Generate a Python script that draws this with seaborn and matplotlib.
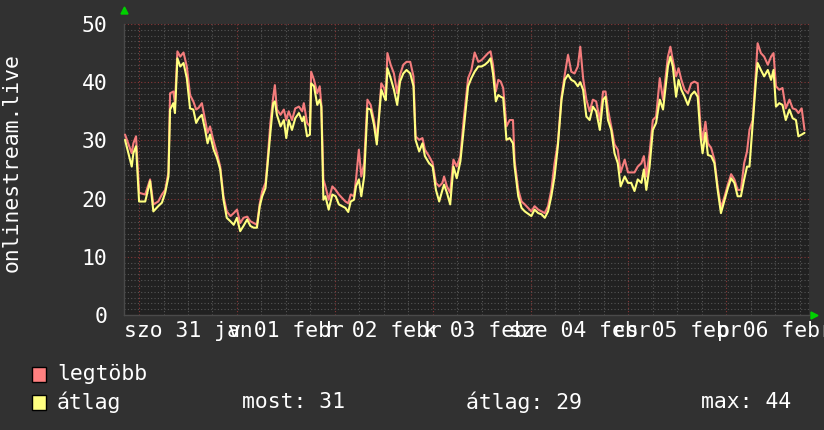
import datetime as dt
import pandas as pd
import matplotlib
matplotlib.use("Agg")
import matplotlib.pyplot as plt
import matplotlib.dates as mdates
import matplotlib.transforms as mtransforms
from matplotlib.patches import Rectangle, Polygon
from matplotlib.ticker import MultipleLocator
import seaborn as sns

# hours since the start of the week window
hours = [
    0.25, 1.9, 2.3, 2.95, 3.7, 5.2, 6.4, 7.2, 8.4, 9.3, 10.1, 10.9, 11.3, 12.1, 12.5,
    13.1, 13.8, 14.6, 15.4, 16.2, 17.0, 17.7, 18.3, 19.1, 19.9, 20.5, 21.1, 22.0, 22.8,
    23.6, 24.4, 25.2, 26.1, 26.9, 27.7, 28.5, 29.3, 30.2, 31.0, 31.8, 32.6, 33.3, 33.9,
    34.7, 35.1, 35.9, 36.6, 37.0, 37.5, 38.4, 39.2, 39.8, 40.4, 41.2, 42.0, 42.9, 43.7,
    44.1, 44.9, 45.6, 45.9, 46.6, 47.4, 48.0, 48.4, 48.9, 49.4, 50.2, 51.1, 51.9, 52.7,
    53.5, 54.3, 55.0, 55.6, 56.4, 56.9, 57.6, 58.2, 58.9, 59.7, 60.5, 61.3, 62.0, 62.5,
    63.1, 63.8, 64.2, 64.6, 65.4, 66.2, 67.0, 67.7, 68.5, 69.3, 70.2, 71.0, 71.5, 72.4,
    73.2, 73.8, 74.8, 75.7, 76.5, 77.3, 78.1, 78.5, 79.2, 80.0, 80.8, 81.6, 82.5, 83.3,
    84.4, 85.2, 86.0, 86.9, 87.7, 88.5, 89.3, 89.9, 90.5, 91.2, 91.8, 92.4, 93.0, 93.8,
    94.6, 95.4, 95.8, 96.7, 97.5, 98.3, 99.1, 99.9, 100.7, 101.6, 102.4, 103.2, 104.0,
    104.8, 105.6, 106.4, 107.3, 108.1, 108.9, 109.7, 110.5, 111.3, 111.9, 112.6, 113.4,
    114.2, 115.0, 115.8, 116.7, 117.5, 118.1, 118.7, 119.5, 120.3, 121.1, 121.8, 122.8,
    123.6, 124.4, 125.2, 126.0, 126.9, 127.5, 128.1, 128.9, 129.7, 130.5, 131.4, 132.2,
    132.7, 133.4, 134.0, 134.6, 135.4, 136.0, 136.7, 137.5, 138.3, 139.1, 139.9, 140.7,
    141.4, 141.9, 142.6, 143.2, 144.0, 144.8, 145.6, 146.4, 147.3, 148.1, 148.9, 149.7,
    150.5, 151.3, 152.1, 152.8, 153.4, 154.2, 155.0, 155.4, 156.2, 157.0, 157.9, 158.7,
    159.3, 159.9, 160.7, 161.5, 162.3, 163.2, 164.0, 164.8, 165.4, 166.2, 166.9,
]

atlag = [
    30.1, 25.5, 27.8, 29.0, 19.5, 19.5, 23.0, 17.8, 18.7, 19.3, 21.0, 23.8, 35.3, 36.4, 34.7,
    44.1, 42.7, 43.3, 40.7, 35.5, 35.3, 33.0, 33.8, 34.4, 31.8, 29.5, 31.0, 28.4, 27.0,
    25.0, 19.8, 16.7, 16.1, 15.5, 16.7, 14.4, 15.3, 16.4, 15.3, 15.0, 15.0, 18.7, 20.4,
    21.8, 25.0, 31.3, 36.4, 36.7, 34.4, 32.4, 33.5, 30.4, 33.5, 31.8, 33.8, 34.7, 33.3,
    34.1, 30.7, 31.0, 39.8, 39.3, 36.1, 37.0, 35.8, 19.8, 20.4, 18.1, 20.7, 20.4, 19.0,
    18.7, 18.4, 17.7, 19.5, 19.8, 22.1, 23.3, 20.4, 23.8, 35.5, 35.3, 32.7, 29.3, 33.5,
    38.7, 37.5, 36.9, 42.4, 40.7, 38.7, 36.1, 40.1, 41.5, 42.1, 41.5, 39.3, 30.1, 28.1,
    29.5, 27.3, 26.1, 25.5, 21.5, 19.5, 21.5, 22.4, 21.0, 19.0, 25.5, 23.5, 26.4, 31.8,
    39.3, 40.7, 41.8, 42.7, 42.7, 43.0, 43.5, 44.1, 41.5, 36.7, 37.8, 37.5, 37.3, 30.1,
    30.4, 29.5, 25.5, 20.4, 18.4, 17.8, 17.4, 17.0, 18.1, 17.5, 17.3, 16.7, 17.8,
    20.4, 23.8, 29.0, 37.0, 40.4, 41.3, 40.4, 40.1, 39.3, 40.0, 38.7, 34.1,
    33.5, 35.8, 35.0, 31.8, 37.0, 37.5, 33.5, 31.8, 27.8, 26.1, 22.1, 23.8,
    22.7, 22.7, 21.3, 23.3, 22.7, 25.0, 21.5, 25.5, 31.8, 33.0, 37.0, 35.3,
    38.4, 42.7, 44.4, 42.7, 37.5, 40.4, 38.7, 37.5, 36.1, 37.8, 38.4, 37.5,
    30.7, 27.8, 31.3, 27.5, 27.3, 26.1, 21.5, 17.5, 19.8, 21.8, 23.5, 22.7,
    20.4, 20.4, 23.3, 25.5, 25.5, 33.0, 40.4, 43.3, 42.1, 41.0, 42.1, 40.4,
    42.1, 35.8, 36.4, 36.1, 33.5, 35.3, 33.8, 33.5, 30.7, 31.0, 31.3,
]

legtobb = [
    31.0, 27.8, 29.5, 30.7, 21.0, 20.7, 23.3, 19.0, 19.5, 20.7, 21.5, 24.5, 38.1, 38.4, 36.4,
    45.3, 44.4, 45.1, 42.7, 37.8, 36.7, 35.3, 35.6, 36.4, 33.5, 31.3, 32.4, 29.8, 27.8,
    25.5, 20.4, 17.8, 17.0, 17.5, 18.1, 15.8, 16.7, 16.9, 16.1, 15.8, 15.5, 19.2, 21.3,
    22.7, 25.6, 33.0, 37.5, 39.5, 35.3, 34.4, 35.3, 33.5, 35.0, 33.5, 35.5, 35.8, 35.0,
    36.4, 33.0, 32.4, 41.8, 40.4, 38.1, 39.3, 36.1, 23.3, 22.1, 19.8, 22.1, 21.5, 20.7,
    20.1, 19.5, 19.2, 20.7, 20.4, 23.3, 28.4, 23.8, 26.1, 37.0, 36.1, 33.5, 30.4, 34.1,
    39.8, 39.0, 37.8, 45.0, 43.0, 41.5, 38.1, 41.3, 43.0, 43.5, 43.5, 41.0, 30.7, 30.1,
    30.4, 28.4, 27.3, 26.1, 22.7, 22.1, 22.7, 23.8, 22.1, 21.0, 26.7, 25.5, 27.3, 33.5,
    40.7, 42.1, 45.1, 43.5, 43.8, 44.4, 45.0, 45.3, 43.0, 38.4, 40.4, 40.1, 39.0, 32.4,
    33.5, 33.5, 26.5, 21.5, 19.5, 19.0, 18.4, 17.8, 18.7, 18.1, 17.8, 17.5, 18.7,
    21.5, 26.1, 29.5, 37.5, 41.3, 44.7, 41.8, 41.5, 42.7, 46.1, 40.7, 37.0,
    35.0, 37.0, 36.7, 33.5, 38.4, 38.4, 35.3, 32.4, 29.3, 28.4, 24.5, 26.7,
    24.5, 24.5, 24.5, 25.5, 26.1, 27.3, 23.8, 27.8, 33.5, 34.1, 40.7, 37.0,
    40.1, 44.4, 46.1, 43.8, 41.0, 42.4, 40.4, 38.7, 38.1, 39.8, 40.1, 39.8,
    32.4, 30.1, 33.2, 29.5, 28.7, 26.7, 22.1, 18.4, 20.4, 22.4, 24.2, 23.3,
    21.5, 21.5, 26.1, 28.1, 31.8, 33.5, 42.1, 46.7, 45.0, 44.4, 43.0, 44.4,
    45.0, 39.3, 38.7, 39.0, 35.5, 37.0, 35.5, 35.3, 34.7, 35.5, 31.8,
]

day_labels = ["szo 31 jan", "v 01 febr", "h 02 febr", "k 03 febr",
              "sze 04 febr", "cs 05 febr", "p 06 febr"]
series_names = ["legtöbb", "átlag"]
series_colors = ["#f47c7c", "#ffff80"]
legend_colors = ["#ff8080", "#ffff80"]
summary = ["most: 31", "átlag: 29", "max: 44"]

start = dt.datetime(2015, 1, 30, 20, 18)
end = start + dt.timedelta(hours=168)

times = [start + dt.timedelta(hours=h) for h in hours]
df = pd.concat([
    pd.DataFrame({"ido": times, "ertek": legtobb, "sorozat": series_names[0]}),
    pd.DataFrame({"ido": times, "ertek": atlag, "sorozat": series_names[1]}),
])

W, H = 824, 430
BG = "#313131"
PLOT_BG = "#212121"
TXT = "#ffffff"
FS = 15.4

sns.set_style("dark")
plt.rcParams["font.family"] = ["DejaVu Sans Mono", "DejaVu Sans"]

fig = plt.figure(figsize=(W / 100, H / 100), dpi=100, facecolor=BG)
ax = fig.add_axes([124 / W, (H - 315) / H, (809 - 124) / W, (315 - 24) / H])
ax.set_facecolor(PLOT_BG)

sns.lineplot(data=df, x="ido", y="ertek", hue="sorozat", hue_order=series_names,
             palette=dict(zip(series_names, series_colors)),
             linewidth=1.5, legend=False, ax=ax, zorder=3)

ax.set_xlim(start, end)
ax.set_ylim(0, 50)

ax.xaxis.set_major_locator(mdates.HourLocator(byhour=[0]))
ax.xaxis.set_minor_locator(mdates.HourLocator(byhour=[6, 12, 18]))
ax.yaxis.set_major_locator(MultipleLocator(10))
ax.yaxis.set_minor_locator(MultipleLocator(1))

ax.grid(which="minor", color="#555555", linestyle=(0, (1, 2)), linewidth=0.8)
ax.grid(which="major", color="#883838", linestyle=(0, (1, 2)), linewidth=0.8)
ax.set_axisbelow(True)

ax.set_xticklabels([])
ax.tick_params(axis="x", which="both", length=0)
ax.tick_params(axis="y", which="both", length=0, pad=12, labelsize=FS, labelcolor=TXT)
ax.set_xlabel("")
ax.set_ylabel("")
for side in ["top", "right"]:
    ax.spines[side].set_visible(False)
for side in ["left", "bottom"]:
    ax.spines[side].set_color("#4a4a4a")
    ax.spines[side].set_linewidth(1)

# day labels centred on noon
trans = mtransforms.blended_transform_factory(ax.transData, fig.transFigure)
for i, lab in enumerate(day_labels):
    noon = dt.datetime(2015, 1, 31, 12) + dt.timedelta(days=i)
    ax.text(mdates.date2num(noon), 1 - 331 / H, lab, transform=trans, ha="center",
            va="center", fontsize=FS, color=TXT, clip_on=False)

fig.text(12 / W, 1 - 163 / H, "onlinestream.live", rotation=90, ha="center",
         va="center", fontsize=FS, color=TXT)

# green axis arrows
fig.patches.append(Polygon([[121 / W, 1 - 14 / H], [128 / W, 1 - 14 / H], [124.5 / W, 1 - 7 / H]],
                           closed=True, color="#00d000", transform=fig.transFigure))
fig.patches.append(Polygon([[811 / W, 1 - 312 / H], [811 / W, 1 - 319 / H], [818 / W, 1 - 315.5 / H]],
                           closed=True, color="#00d000", transform=fig.transFigure))

# legend
for row, (name, col) in enumerate(zip(series_names, legend_colors)):
    yc = 374 + row * 28
    fig.patches.append(Rectangle((32 / W, 1 - (yc + 7.5) / H), 14 / W, 15 / H,
                                 facecolor=col, edgecolor="black", linewidth=1,
                                 transform=fig.transFigure))
    fig.text(57 / W, 1 - yc / H, name, ha="left", va="center", fontsize=FS, color=TXT)

for xpos, s in zip([242, 466, 701], summary):
    fig.text(xpos / W, 1 - 402 / H, s, ha="left", va="center", fontsize=FS, color=TXT)

fig.savefig("out.png", dpi=100, facecolor=BG)
